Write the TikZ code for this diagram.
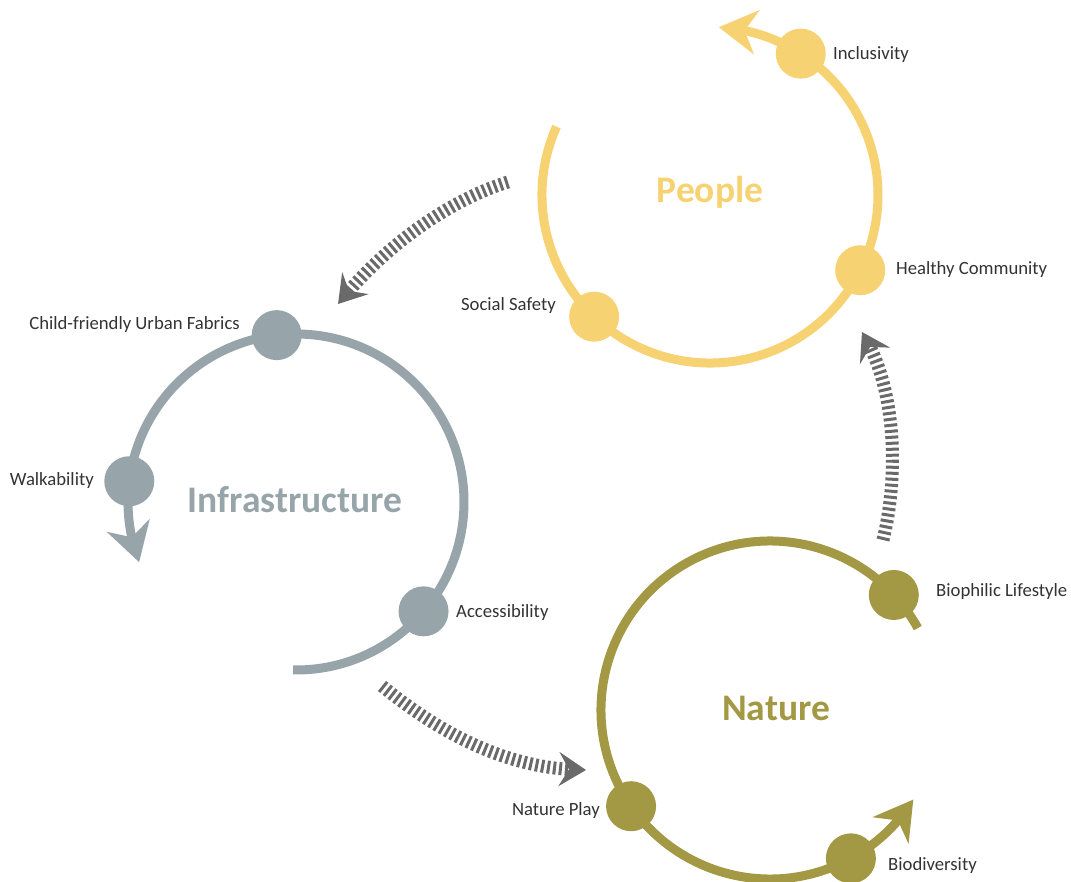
\documentclass[tikz,border=0pt]{standalone}
\usepackage{fontspec}
\setmainfont{Carlito}
\usetikzlibrary{arrows.meta,bending,calc}
\definecolor{ppl}{HTML}{F7D272}
\definecolor{inf}{HTML}{97A5AB}
\definecolor{nat}{HTML}{A39843}
\definecolor{dsh}{HTML}{6A6A6A}
\definecolor{lbl}{HTML}{333333}
\begin{document}
\begin{tikzpicture}[x=1pt,y=-1pt,
 ring/.style={line width=9pt,draw=#1,-{Stealth[length=38pt,width=44pt,inset=12pt]}},
 dot/.style={circle,fill=#1,minimum size=50pt,inner sep=0pt},
 lab/.style={font=\fontsize{18.7}{21}\selectfont,text=lbl,inner sep=0pt},
 ttl/.style={font=\fontsize{37.5}{42}\selectfont\bfseries,text=#1,inner sep=0pt},
 flow/.style={line width=13pt,draw=dsh,dash pattern=on 3pt off 3pt,-{Stealth[length=27pt,width=34pt,inset=10pt]}}]
\useasboundingbox (0,0) rectangle (1071,882);
% centres
\coordinate (P) at (710,195);
\coordinate (I) at (296,502);
\coordinate (N) at (770,710);
% rings
\draw[ring=ppl] ($(P)+(204:168)$) arc[start angle=204,end angle=-87,radius=168];
\draw[ring=inf] ($(I)+(91:168)$) arc[start angle=91,end angle=-201,radius=168];
\draw[ring=nat] ($(N)+(-29:169)$) arc[start angle=-29,end angle=-328,radius=169];
% dots
\node[dot=ppl] (inc) at ($(P)+(-57.3:168)$) {};
\node[dot=ppl] (hc) at ($(P)+(26.6:168)$) {};
\node[dot=ppl] (ss) at ($(P)+(133.6:168)$) {};
\node[dot=inf] (cf) at ($(I)+(-96.6:168)$) {};
\node[dot=inf] (wk) at ($(I)+(187.1:168)$) {};
\node[dot=inf] (ac) at ($(I)+(40.6:168)$) {};
\node[dot=nat] (bl) at ($(N)+(-42.9:169)$) {};
\node[dot=nat] (np) at ($(N)+(145.3:169)$) {};
\node[dot=nat] (bd) at ($(N)+(61.4:169)$) {};
% titles
\node[ttl=ppl] (tp) at (710,192) {People};
\node[ttl=inf] (ti) at (295,500) {Infrastructure};
\node[ttl=nat] (tn) at (776,708) {Nature};
% labels
\node[lab,anchor=west] (linc) at (833,55) {Inclusivity};
\node[lab,anchor=west] (lhc) at (896,270) {Healthy Community};
\node[lab,anchor=east] (lss) at (556,306) {Social Safety};
\node[lab,anchor=east] (lcf) at (240,325) {Child-friendly Urban Fabrics};
\node[lab,anchor=east] (lwk) at (94,481) {Walkability};
\node[lab,anchor=west] (lac) at (456,613) {Accessibility};
\node[lab,anchor=west] (lbl) at (936,592) {Biophilic Lifestyle};
\node[lab,anchor=east] (lnp) at (600,811) {Nature Play};
\node[lab,anchor=west] (lbd) at (888,866) {Biodiversity};
% flow arrows
\coordinate (f1s) at (508,182); \coordinate (f1e) at (338,304);
\coordinate (f2s) at (883,540); \coordinate (f2e) at (862,332);
\coordinate (f3s) at (382,686); \coordinate (f3e) at (586,770);
\draw[flow] (f1s) .. controls (450,200) and (385,245) .. (f1e);
\draw[flow] (f2s) .. controls (898,480) and (898,390) .. (f2e);
\draw[flow] (f3s) .. controls (430,725) and (500,770) .. (f3e);
\end{tikzpicture}
\end{document}
